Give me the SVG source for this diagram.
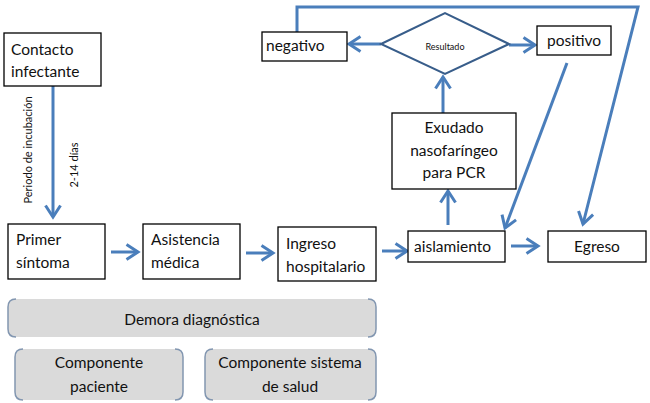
<svg xmlns="http://www.w3.org/2000/svg" width="650" height="403" viewBox="0 0 650 403">
<style>
.box{fill:#fff;stroke:#000;stroke-width:1.3}
.t{font-family:Lato,"Liberation Sans",sans-serif;font-size:15.5px;fill:#111}
.c{text-anchor:middle}
.s{font-family:Lato,"Liberation Sans",sans-serif;font-size:11px;fill:#111}
.con{fill:none;stroke:#4a7ebb;stroke-width:3;marker-end:url(#ah)}
.gray{fill:#dadada}
.br{fill:none;stroke:#8296b0;stroke-width:1.5}
</style>
<defs>
<marker id="ah" markerUnits="userSpaceOnUse" markerWidth="18" markerHeight="22" refX="13" refY="9" orient="auto">
<path d="M1.5,1.5 L13,9 L1.5,16.5" fill="none" stroke="#4a7ebb" stroke-width="3"/>
</marker>
</defs>
<rect width="650" height="403" fill="#fff"/>
<g id="connectors">
<path class="con" d="M53,86 L53,217"/>
<path class="con" d="M111,252 L138,252"/>
<path class="con" d="M246,253 L273,253"/>
<path class="con" d="M382,251 L407,251"/>
<path class="con" d="M511,246 L538,246"/>
<path class="con" d="M448,225 L448,191"/>
<path class="con" d="M443,113 L443,77"/>
<path class="con" d="M381,44 L349,44"/>
<path class="con" d="M509,45 L535,45"/>
<path class="con" d="M567,63 L505,228"/>
<path class="con" d="M297,32 L297,7 L638,7 L583,224"/>
</g>
<g id="contacto">
<rect class="box" x="4" y="33" width="97" height="53"/>
<text class="t" x="11" y="55">Contacto</text>
<text class="t" x="11" y="77">infectante</text>
</g>
<g id="incubacion-labels">
<text class="s" transform="translate(32,150) rotate(-90)" text-anchor="middle">Periodo de incubación</text>
<text class="s" transform="translate(78,165) rotate(-90)" text-anchor="middle">2-14 días</text>
</g>
<g id="primer">
<rect class="box" x="8" y="224" width="97" height="55"/>
<text class="t" x="16" y="245">Primer</text>
<text class="t" x="16" y="268">síntoma</text>
</g>
<g id="asistencia">
<rect class="box" x="143" y="224" width="97" height="55"/>
<text class="t" x="151" y="245">Asistencia</text>
<text class="t" x="151" y="268">médica</text>
</g>
<g id="ingreso">
<rect class="box" x="278" y="227" width="98" height="54"/>
<text class="t" x="286" y="249">Ingreso</text>
<text class="t" x="286" y="272">hospitalario</text>
</g>
<g id="aislamiento">
<rect class="box" x="408" y="231" width="97" height="31"/>
<text class="t" x="414" y="252">aislamiento</text>
</g>
<g id="egreso">
<rect class="box" x="548" y="231" width="98" height="31"/>
<text class="t c" x="597" y="252">Egreso</text>
</g>
<g id="exudado">
<rect class="box" x="392" y="113" width="124" height="76"/>
<text class="t c" x="454" y="133">Exudado</text>
<text class="t c" x="454" y="156">nasofaríngeo</text>
<text class="t c" x="454" y="178">para PCR</text>
</g>
<g id="resultado">
<path d="M381,44 L445,13 L509,44 L445,74 Z" fill="#fff" stroke="#385d8a" stroke-width="2"/>
<text class="c" x="445" y="50" font-family="Lato,'Liberation Sans',sans-serif" font-size="9" fill="#111">Resultado</text>
</g>
<g id="negativo">
<rect class="box" x="262" y="32" width="85" height="29"/>
<text class="t" x="266" y="51">negativo</text>
</g>
<g id="positivo">
<rect class="box" x="537" y="26" width="74" height="29"/>
<text class="t c" x="574" y="46">positivo</text>
</g>
<g id="demora">
<rect class="gray" x="8" y="299" width="368" height="38" rx="8"/>
<path class="br" d="M16,299 Q8,299 8,307 L8,329 Q8,337 16,337"/>
<path class="br" d="M368,299 Q376,299 376,307 L376,329 Q376,337 368,337"/>
<text class="t c" x="192" y="325">Demora diagnóstica</text>
</g>
<g id="paciente">
<rect class="gray" x="15" y="349" width="168" height="51" rx="8"/>
<path class="br" d="M23,349 Q15,349 15,357 L15,392 Q15,400 23,400"/>
<path class="br" d="M175,349 Q183,349 183,357 L183,392 Q183,400 175,400"/>
<text class="t c" x="99" y="368">Componente</text>
<text class="t c" x="99" y="392">paciente</text>
</g>
<g id="sistema">
<rect class="gray" x="205" y="349" width="171" height="51" rx="8"/>
<path class="br" d="M213,349 Q205,349 205,357 L205,392 Q205,400 213,400"/>
<path class="br" d="M368,349 Q376,349 376,357 L376,392 Q376,400 368,400"/>
<text class="t c" x="290" y="368">Componente sistema</text>
<text class="t c" x="290" y="392">de salud</text>
</g>
</svg>
